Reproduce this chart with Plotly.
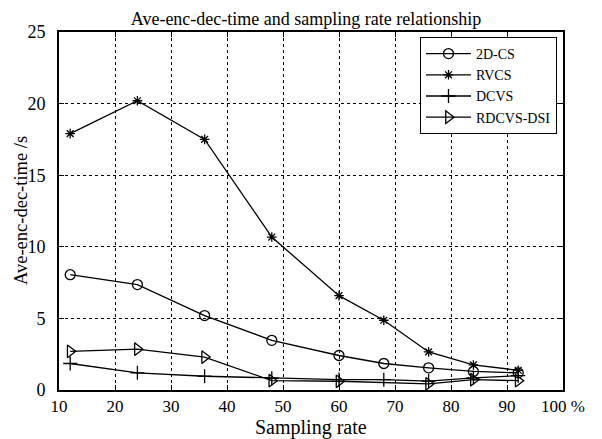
import plotly.graph_objects as go

sampling_rate = [12, 24, 36, 48, 60, 68, 76, 84, 92]
rdcvs_rate = [12, 24, 36, 48, 60, 76, 84, 92]
cs2d = [8.05, 7.36, 5.2, 3.47, 2.41, 1.85, 1.55, 1.3, 1.2]
rvcs = [17.9, 20.2, 17.5, 10.68, 6.59, 4.87, 2.66, 1.75, 1.38]
dcvs = [1.85, 1.2, 0.96, 0.82, 0.73, 0.72, 0.62, 0.85, 1.0]
rdcvs_dsi = [2.7, 2.85, 2.3, 0.65, 0.61, 0.43, 0.72, 0.65]

x_ticks = [10, 20, 30, 40, 50, 60, 70, 80, 90, 100]
x_ticktext = ["10", "20", "30", "40", "50", "60", "70", "80", "90", "100 %"]
y_ticks = [0, 5, 10, 15, 20, 25]

FONT = "Times New Roman, Liberation Serif, serif"

# page body has an 8px default margin; the figure is sized to fit the window
W, H = 594, 431
L, T, R, B = 51, 24, 39, 48.5
PW, PH = W - L - R, H - T - B

fig = go.Figure()
series = [
    ("2D-CS", sampling_rate, cs2d, "circle-open", 10),
    ("RVCS", sampling_rate, rvcs, "asterisk-open", 8),
    ("DCVS", sampling_rate, dcvs, "cross-thin-open", 10),
    ("RDCVS-DSI", rdcvs_rate, rdcvs_dsi, "triangle-right-open", 11),
]
for name, xs, ys, sym, size in series:
    fig.add_trace(go.Scatter(
        x=xs, y=ys, name=name, mode="lines+markers",
        line=dict(color="black", width=1.3),
        marker=dict(symbol=sym, size=size, color="black",
                    line=dict(color="black", width=1.3)),
    ))

fig.update_layout(
    width=W, height=H,
    paper_bgcolor="white", plot_bgcolor="white",
    margin=dict(l=L, r=R, t=T, b=B),
    font=dict(family=FONT, color="black", size=16),
    title=dict(text="Ave-enc-dec-time and sampling rate relationship",
               x=298 / W, xanchor="center", y=1 - 11 / H, yanchor="middle",
               font=dict(family=FONT, size=18, color="black")),
    showlegend=True,
    legend=dict(x=(549 - L) / PW, xanchor="right", y=(H - B - 29) / PH, yanchor="top",
                bgcolor="white", bordercolor="black", borderwidth=1,
                font=dict(family=FONT, size=14, color="black"),
                tracegroupgap=0, itemwidth=45),
    annotations=[
        dict(text="Sampling rate", xref="paper", yref="paper",
             x=0.5, y=-(420 - (H - B)) / PH, xanchor="center", yanchor="middle",
             showarrow=False, font=dict(family=FONT, size=20, color="black")),
        dict(text="Ave-enc-dec-time /s", xref="paper", yref="paper",
             x=-(L - 13) / PW, y=0.5, xanchor="center", yanchor="middle",
             textangle=-90, showarrow=False,
             font=dict(family=FONT, size=18.5, color="black")),
    ],
)
fig.update_xaxes(
    range=[10, 100], tickvals=x_ticks, ticktext=x_ticktext, automargin=False,
    showline=True, linecolor="black", linewidth=2, mirror="ticks",
    ticks="inside", ticklen=5, tickcolor="black",
    showgrid=True, gridcolor="black", griddash="dot", gridwidth=1,
    zeroline=False, ticklabelstandoff=0,
    tickfont=dict(family=FONT, size=17, color="black"),
)
fig.update_yaxes(
    range=[0, 25], tickvals=y_ticks, automargin=False,
    showline=True, linecolor="black", linewidth=2, mirror="ticks",
    ticks="inside", ticklen=5, tickcolor="black",
    showgrid=True, gridcolor="black", griddash="dot", gridwidth=1,
    zeroline=False, ticklabelstandoff=8,
    tickfont=dict(family=FONT, size=18, color="black"),
)

fig.write_html("out.html")
